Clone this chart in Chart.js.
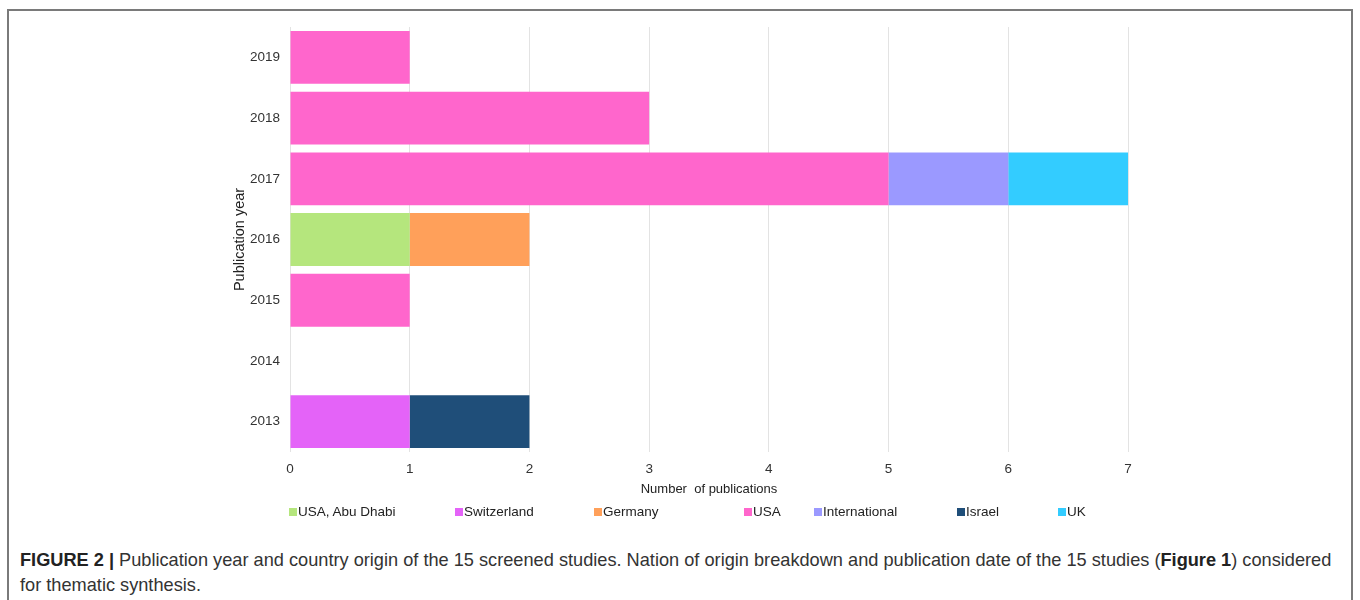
<!DOCTYPE html>
<html>
<head>
<meta charset="utf-8">
<script src="https://cdn.jsdelivr.net/npm/chart.js@4/dist/chart.umd.min.js"></script>
<style>
  html, body { margin: 0; padding: 0; background: #fff; }
  body { width: 1360px; height: 600px; position: relative; overflow: hidden; font-family: "Liberation Sans", Arial, sans-serif; }
  #frame { position: absolute; left: 7px; top: 9px; width: 1346px; height: 640px; border: 2px solid #7a7a7a; box-sizing: border-box; }
  #chartBox { position: absolute; left: 0; top: 0; width: 1360px; height: 505px; }
  #legend { position: absolute; left: 0; top: 504px; width: 1360px; height: 18px; font-size: 13.5px; color: #222; }
  #legend .item { position: absolute; top: 0; white-space: nowrap; line-height: 16px; }
  #legend .box { display: inline-block; width: 8px; height: 8px; margin-right: 1px; vertical-align: 0px; }
  #caption { position: absolute; left: 20px; top: 548px; width: 1318px; font-size: 18.2px; line-height: 25px; color: #333; }
  #caption b { color: #222; }
</style>
</head>
<body>
<div id="frame"></div>
<div id="chartBox"><canvas id="chart"></canvas></div>
<div id="legend"></div>
<div id="caption"><b>FIGURE 2 |</b> Publication year and country origin of the 15 screened studies. Nation of origin breakdown and publication date of the 15 studies (<b>Figure 1</b>) considered for thematic synthesis.</div>

<script>
// Publication years, listed top to bottom
const years = ['2019', '2018', '2017', '2016', '2015', '2014', '2013'];

// Number of publications per country of origin for each year (null = none)
const usaAbuDhabi   = [null, null, null, 1, null, null, null];
const switzerland   = [null, null, null, null, null, null, 1];
const germany       = [null, null, null, 1, null, null, null];
const usa           = [1, 3, 5, null, 1, null, null];
const international = [null, null, 1, null, null, null, null];
const israel        = [null, null, null, null, null, null, 1];
const uk            = [null, null, 1, null, null, null, null];

// Axis ticks for the publication count
const countTicks = [0, 1, 2, 3, 4, 5, 6, 7];

const seriesNames  = ['USA, Abu Dhabi', 'Switzerland', 'Germany', 'USA', 'International', 'Israel', 'UK'];
const seriesValues = [usaAbuDhabi, switzerland, germany, usa, international, israel, uk];
const seriesColors = ['#b5e67d', '#e463f8', '#ffa05a', '#ff66cc', '#9b99ff', '#1f4e79', '#33ccff'];

// Left edge of each legend entry
const legendLeft = [289, 455, 594, 744, 814, 957, 1058];

const datasets = seriesNames.map((name, i) => ({
  label: name,
  data: seriesValues[i],
  backgroundColor: seriesColors[i],
  borderWidth: 0,
  categoryPercentage: 1.0,
  barPercentage: 0.87,
  stack: 'all'
}));

const fontFamily = '"Liberation Sans", Arial, sans-serif';
const tickFont = { family: fontFamily, size: 13.5 };

const chart = new Chart(document.getElementById('chart'), {
  type: 'bar',
  data: { labels: years, datasets },
  options: {
    indexAxis: 'y',
    responsive: true,
    maintainAspectRatio: false,
    animation: false,
    layout: { padding: { left: 230, right: 232, top: 27, bottom: 0 } },
    plugins: {
      legend: { display: false },
      tooltip: { enabled: false }
    },
    scales: {
      x: {
        stacked: true,
        min: 0,
        max: 7,
        afterBuildTicks: s => { s.ticks = countTicks.map(v => ({ value: v })); },
        afterFit: s => { s.height = 53; },
        grid: { color: '#e3e3e3', lineWidth: 1, drawTicks: false },
        border: { display: false },
        ticks: { font: tickFont, color: '#333', padding: 9 },
        title: {
          display: true,
          text: 'Number  of publications',
          font: { family: fontFamily, size: 13 },
          color: '#222',
          padding: { top: 0, bottom: 8 }
        }
      },
      y: {
        stacked: true,
        afterFit: s => { s.width = 60; },
        grid: { display: false, drawTicks: false },
        border: { display: false },
        ticks: { font: tickFont, color: '#333', padding: 10 },
        title: {
          display: true,
          text: 'Publication year',
          font: { family: fontFamily, size: 14.5 },
          color: '#222',
          padding: { top: 1, bottom: 0 }
        }
      }
    }
  }
});

// Legend entries built from the chart's datasets
const legendEl = document.getElementById('legend');
chart.data.datasets.forEach((ds, i) => {
  const item = document.createElement('div');
  item.className = 'item';
  item.style.left = legendLeft[i] + 'px';
  const box = document.createElement('span');
  box.className = 'box';
  box.style.background = ds.backgroundColor;
  item.appendChild(box);
  item.appendChild(document.createTextNode(ds.label));
  legendEl.appendChild(item);
});
</script>
</body>
</html>
